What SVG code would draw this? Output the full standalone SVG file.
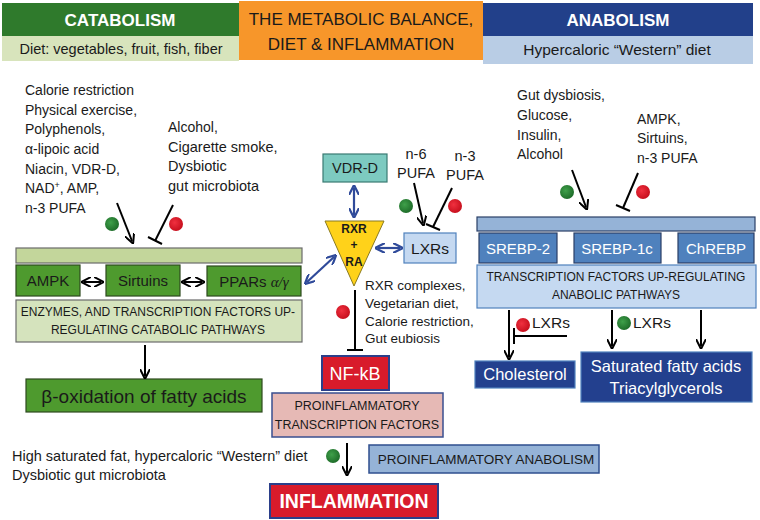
<svg xmlns="http://www.w3.org/2000/svg" width="760" height="520" viewBox="0 0 760 520">
<defs>
<marker id="ahk" viewBox="0 0 10 10" refX="7" refY="5" markerWidth="10" markerHeight="10" orient="auto-start-reverse" markerUnits="userSpaceOnUse">
<path d="M0,0 L10,5 L0,10" fill="none" stroke="#000" stroke-width="2"/>
</marker>
<marker id="ahb" viewBox="0 0 10 10" refX="7" refY="5" markerWidth="10" markerHeight="10" orient="auto-start-reverse" markerUnits="userSpaceOnUse">
<path d="M0,0 L10,5 L0,10" fill="none" stroke="#2f4a9a" stroke-width="2.2"/>
</marker>
<radialGradient id="gG" cx="0.4" cy="0.4" r="0.6">
<stop offset="0" stop-color="#3fa04a"/><stop offset="1" stop-color="#1f6e2a"/>
</radialGradient>
<radialGradient id="gR" cx="0.4" cy="0.4" r="0.6">
<stop offset="0" stop-color="#f0303f"/><stop offset="1" stop-color="#c8101e"/>
</radialGradient>
<style>
text{font-family:"Liberation Sans",Arial,sans-serif;fill:#1a1a1a}
.t{font-size:14px}
.s{font-size:12px}
.c{text-anchor:middle}
.w{fill:#fff}
.b{font-weight:bold}
.ln{stroke:#000;stroke-width:2;fill:none}
.lb{stroke:#2f4a9a;stroke-width:2.2;fill:none}
.dg{fill:url(#gG)}
.dr{fill:url(#gR)}
.gdk{fill:#4e9a2e;stroke:#2d4a1e;stroke-width:1.2}
.glt{fill:#d5e3bd;stroke:#6b6b6b;stroke-width:1.2}
.bl{fill:#c5d9f1;stroke:#4f81bd;stroke-width:1.2}
.bm{fill:#4f81bd;stroke:#2a3f66;stroke-width:1.2}
.bd{fill:#23408e;stroke:#4f81bd;stroke-width:1.2}
.rd{fill:#d81b2b;stroke:#2b3f8a;stroke-width:2}
</style>
</defs>

<g id="header-catabolism">
<rect x="2" y="3" width="237" height="33" fill="#2f7a2c"/>
<text x="120" y="26" class="c w b" font-size="17">CATABOLISM</text>
<rect x="2" y="36" width="237" height="25" fill="#d8e4bc"/>
<text x="121" y="54" class="c" font-size="14.5">Diet: vegetables, fruit, fish, fiber</text>
</g>
<g id="header-balance">
<rect x="239" y="1" width="244" height="59" fill="#f7962a"/>
<text x="361" y="25" class="c" font-size="17">THE METABOLIC BALANCE,</text>
<text x="361" y="50" class="c" font-size="17">DIET &amp; INFLAMMATION</text>
</g>
<g id="header-anabolism">
<rect x="483" y="3" width="270" height="33" fill="#22408a"/>
<text x="618" y="26" class="c w b" font-size="17">ANABOLISM</text>
<rect x="483" y="36" width="270" height="28" fill="#b9cde5"/>
<text x="617" y="55" class="c" font-size="15.5">Hypercaloric “Western”  diet</text>
</g>

<g id="left-activators">
<text class="t" x="25" y="95">Calorie restriction</text>
<text class="t" x="25" y="115">Physical exercise,</text>
<text class="t" x="25" y="134">Polyphenols,</text>
<text class="t" x="25" y="154">α-lipoic acid</text>
<text class="t" x="25" y="174">Niacin, VDR-D,</text>
<text class="t" x="25" y="193">NAD<tspan font-size="9" dy="-5">+</tspan><tspan dy="5">, AMP,</tspan></text>
<text class="t" x="25" y="213">n-3 PUFA</text>
</g>
<g id="left-inhibitors">
<text class="t" x="168" y="132" font-size="14.5">Alcohol,</text>
<text class="t" x="168" y="152" style="font-size:14.5px">Cigarette smoke,</text>
<text class="t" x="168" y="171" style="font-size:14.5px">Dysbiotic</text>
<text class="t" x="168" y="191" style="font-size:14.5px">gut microbiota</text>
</g>

<g id="catabolic-block">
<rect x="16" y="248" width="286" height="15" fill="#c3d69b" stroke="#6b6b6b" stroke-width="1.2"/>
<g id="ampk"><rect x="16" y="265" width="64" height="31" class="gdk"/><text x="48" y="286" class="c" font-size="15">AMPK</text></g>
<g id="sirtuins"><rect x="106" y="265" width="74" height="31" class="gdk"/><text x="143" y="286" class="c" font-size="15">Sirtuins</text></g>
<g id="ppars"><rect x="207" y="266" width="94" height="30" class="gdk"/><text x="254" y="287" class="c" font-size="15">PPARs <tspan font-family="Liberation Serif" font-style="italic">α/γ</tspan></text></g>
<g id="enzymes"><rect x="16" y="300" width="286" height="42" class="glt"/>
<text x="158" y="316" class="c s">ENZYMES, AND TRANSCRIPTION FACTORS UP-</text>
<text x="158" y="334" class="c s">REGULATING CATABOLIC PATHWAYS</text></g>
<g id="beta-oxidation"><rect x="26" y="379" width="236" height="33" class="gdk"/>
<text x="144" y="403" class="c" font-size="19">β-oxidation of fatty acids</text></g>
</g>

<g id="vdr-d"><rect x="323" y="154" width="64" height="28" fill="#7dcac0" stroke="#3a7a72" stroke-width="1.2"/><text x="355" y="173" class="c" font-size="14.5">VDR-D</text></g>
<g id="rxr-ra">
<polygon points="325,221 384,221 354,286" fill="#ffd21a" stroke="#8a7a20" stroke-width="1"/>
<text x="354" y="233" class="c b" font-size="12">RXR</text>
<text x="354" y="249" class="c b" font-size="12">+</text>
<text x="354" y="266" class="c b" font-size="12">RA</text>
</g>
<g id="lxrs"><rect x="404" y="233" width="52" height="30" class="bl"/><text x="430" y="254" class="c" font-size="15.5">LXRs</text></g>
<g id="pufa-labels">
<text x="416" y="159" class="c" font-size="14.5">n-6</text>
<text x="416" y="178" class="c" font-size="14.5">PUFA</text>
<text x="465" y="161" class="c" font-size="14.5">n-3</text>
<text x="465" y="180" class="c" font-size="14.5">PUFA</text>
</g>
<g id="nfkb-inhibitors">
<text x="365" y="290" font-size="13.5">RXR complexes,</text>
<text x="365" y="308" font-size="13.5">Vegetarian diet,</text>
<text x="365" y="326" font-size="13.5">Calorie restriction,</text>
<text x="365" y="343" font-size="13.5">Gut eubiosis</text>
</g>
<g id="nf-kb"><rect x="322" y="356" width="67" height="34" class="rd"/><text x="355" y="380" class="c w" font-size="18">NF-kB</text></g>
<g id="proinflammatory-tf"><rect x="272" y="393" width="171" height="44" fill="#e6b9b5" stroke="#3a4f90" stroke-width="1.5"/>
<text x="357" y="410" class="c" font-size="12.5">PROINFLAMMATORY</text>
<text x="357" y="429" class="c" font-size="12.5">TRANSCRIPTION FACTORS</text></g>
<g id="inflammation-causes">
<text x="12" y="461" font-size="14.5">High saturated fat, hypercaloric “Western”  diet</text>
<text x="12" y="480" font-size="14.5">Dysbiotic gut microbiota</text>
</g>
<g id="proinflammatory-anabolism"><rect x="369" y="445" width="230" height="28" fill="#95b3d7" stroke="#2f4f8f" stroke-width="1.5"/>
<text x="486" y="464" class="c" font-size="13.5">PROINFLAMMATORY  ANABOLISM</text></g>
<g id="inflammation"><rect x="270" y="484" width="168" height="34" class="rd"/>
<text x="354" y="508" class="c w b" font-size="19.5">INFLAMMATION</text></g>

<g id="right-activators">
<text class="t" x="517" y="100">Gut dysbiosis,</text>
<text class="t" x="517" y="120">Glucose,</text>
<text class="t" x="517" y="140">Insulin,</text>
<text class="t" x="517" y="159">Alcohol</text>
</g>
<g id="right-inhibitors">
<text class="t" x="637" y="124">AMPK,</text>
<text class="t" x="637" y="143">Sirtuins,</text>
<text class="t" x="637" y="163">n-3 PUFA</text>
</g>
<g id="anabolic-block">
<rect x="477" y="217" width="278" height="14" fill="#95b3d7" stroke="#2a3f66" stroke-width="1.2"/>
<g id="srebp-2"><rect x="479" y="233" width="78" height="30" class="bm"/><text x="518" y="254" class="c w" font-size="15">SREBP-2</text></g>
<g id="srebp-1c"><rect x="574" y="233" width="87" height="30" class="bm"/><text x="617" y="254" class="c w" font-size="15">SREBP-1c</text></g>
<g id="chrebp"><rect x="678" y="233" width="76" height="30" class="bm"/><text x="716" y="254" class="c w" font-size="15">ChREBP</text></g>
<g id="tf-anabolic"><rect x="477" y="265" width="279" height="43" class="bl"/>
<text x="616" y="281" class="c s">TRANSCRIPTION FACTORS UP-REGULATING</text>
<text x="616" y="299" class="c s">ANABOLIC PATHWAYS</text></g>
<g id="cholesterol"><rect x="475" y="361" width="100" height="27" class="bd"/><text x="525" y="380" class="c w" font-size="16.5">Cholesterol</text></g>
<g id="fatty-acids"><rect x="581" y="352" width="171" height="50" class="bd"/>
<text x="666" y="372" class="c w" font-size="16.5">Saturated fatty acids</text>
<text x="666" y="394" class="c w" font-size="16.5">Triacylglycerols</text></g>
<text x="532" y="328" font-size="15.5">LXRs</text>
<text x="633" y="328" font-size="15.5">LXRs</text>
</g>

<g id="dots">
<circle cx="112" cy="224" r="7" class="dg"/>
<circle cx="176" cy="224" r="7" class="dr"/>
<circle cx="406" cy="206" r="7" class="dg"/>
<circle cx="455" cy="206" r="7" class="dr"/>
<circle cx="343" cy="312" r="7" class="dr"/>
<circle cx="333" cy="456" r="7" class="dg"/>
<circle cx="567" cy="192" r="7" class="dg"/>
<circle cx="643" cy="192" r="7" class="dr"/>
<circle cx="523" cy="325" r="7" class="dr"/>
<circle cx="624" cy="323" r="7" class="dg"/>
</g>

<g id="connectors">
<line x1="117" y1="203" x2="132" y2="241" class="ln" marker-end="url(#ahk)"/>
<line x1="173" y1="205" x2="155" y2="241" class="ln"/>
<line x1="148" y1="237" x2="162" y2="244" class="ln"/>
<line x1="84" y1="282" x2="101" y2="282" class="ln" marker-start="url(#ahk)" marker-end="url(#ahk)"/>
<line x1="184" y1="282" x2="202" y2="282" class="ln" marker-start="url(#ahk)" marker-end="url(#ahk)"/>
<line x1="145" y1="345" x2="145" y2="376" class="ln" marker-end="url(#ahk)"/>
<line x1="354" y1="188" x2="354" y2="215" class="lb" marker-start="url(#ahb)" marker-end="url(#ahb)"/>
<line x1="378" y1="248" x2="400" y2="248" class="lb" marker-start="url(#ahb)" marker-end="url(#ahb)"/>
<line x1="334" y1="257" x2="307" y2="282" class="lb" marker-start="url(#ahb)" marker-end="url(#ahb)"/>
<line x1="414" y1="183" x2="423" y2="223" class="ln" marker-end="url(#ahk)"/>
<line x1="452" y1="188" x2="433" y2="227" class="ln"/>
<line x1="426" y1="224" x2="440" y2="230" class="ln"/>
<line x1="355" y1="290" x2="355" y2="350" class="ln"/>
<line x1="347" y1="350" x2="363" y2="350" class="ln"/>
<line x1="347" y1="443" x2="347" y2="473" class="ln" marker-end="url(#ahk)"/>
<line x1="572" y1="170" x2="586" y2="207" class="ln" marker-end="url(#ahk)"/>
<line x1="638" y1="173" x2="623" y2="208" class="ln"/>
<line x1="616" y1="205" x2="630" y2="211" class="ln"/>
<line x1="509" y1="310" x2="509" y2="357" class="ln" marker-end="url(#ahk)"/>
<line x1="612" y1="310" x2="612" y2="346" class="ln" marker-end="url(#ahk)"/>
<line x1="701" y1="310" x2="701" y2="346" class="ln" marker-end="url(#ahk)"/>
<line x1="567" y1="336" x2="514" y2="336" class="ln"/>
<line x1="514" y1="328" x2="514" y2="344" class="ln"/>
</g>
</svg>
